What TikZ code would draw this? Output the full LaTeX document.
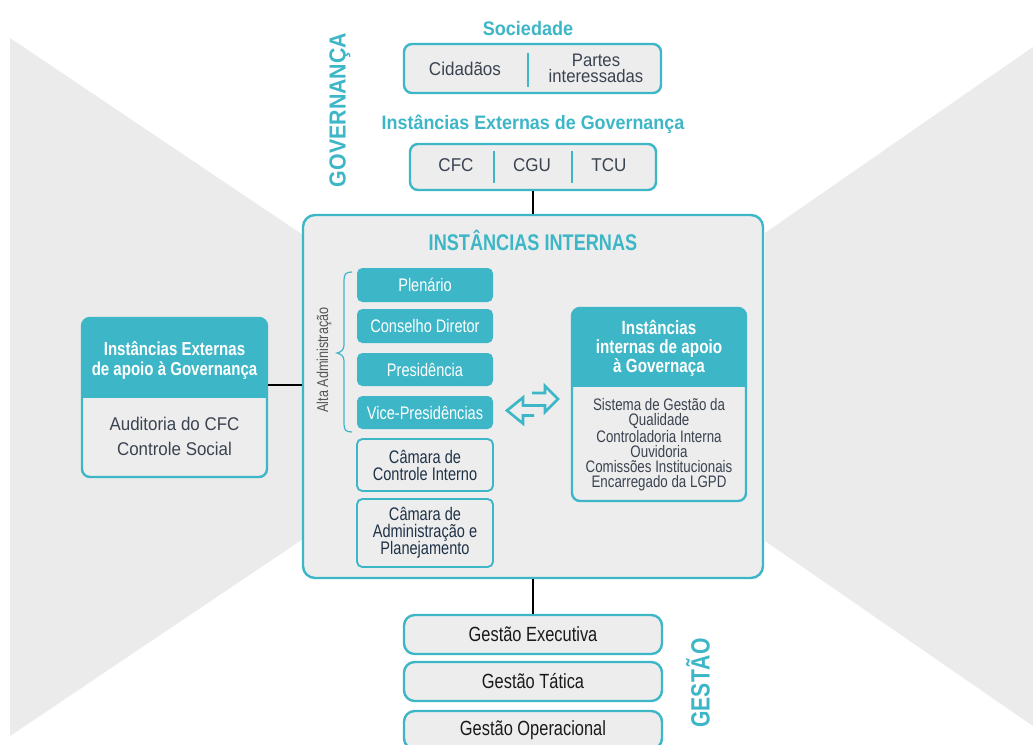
\documentclass[tikz,border=0pt]{standalone}
\usepackage{fontspec}
\setmainfont{Liberation Sans}
\newfontfamily\cond[FakeStretch=0.8]{Liberation Sans}
\newfontfamily\semi[FakeStretch=0.92]{Liberation Sans}
\definecolor{brand}{HTML}{3DB6C7}
\definecolor{boxgray}{HTML}{EDEDED}
\definecolor{bggray}{HTML}{EBEBEB}
\definecolor{textdark}{HTML}{3B4350}
\definecolor{navy}{HTML}{1F3246}
\definecolor{nearblack}{HTML}{1A1A1A}
\definecolor{altagray}{HTML}{555555}
\begin{document}
\begin{tikzpicture}[x=0.75pt,y=-0.75pt,
  sz/.style 2 args={minimum width=#1*0.75pt, minimum height=#2*0.75pt},
  obox/.style={draw=brand, line width=1.8pt, fill=boxgray, rounded corners=6pt, inner sep=0pt},
  fbox/.style={fill=brand, rounded corners=4pt, inner sep=0pt, text=white, font=\cond\fontsize{13.65}{12}\selectfont},
  cbox/.style={draw=brand, line width=1.4pt, fill=boxgray, rounded corners=4pt, inner sep=0pt, text=navy, align=center, font=\cond\fontsize{13.65}{12.8}\selectfont},
  gbox/.style={draw=brand, line width=1.8pt, fill=boxgray, rounded corners=8pt, inner sep=0pt, text=nearblack, font=\cond\fontsize{15.4}{17}\selectfont},
  conn/.style={draw=black, line width=1.6pt},
  divider/.style={draw=brand, line width=1.6pt},
  ttl/.style={text=brand, inner sep=0pt, font=\semi\bfseries\fontsize{14.7}{17}\selectfont},
  txt/.style={text=textdark, align=center, inner sep=0pt},
  bracestyle/.style={draw=brand, line width=0.9pt},
]
% background
\fill[white] (0,0) rectangle (1033,744);
\fill[bggray] (10,38) -- (303,235) -- (303,539) -- (10,736) -- cycle;
\fill[bggray] (1033,47) -- (765,233) -- (765,541) -- (1033,726) -- cycle;
\useasboundingbox (0,0) rectangle (1033,744);

% Sociedade
\node[ttl] (soct) at (528,28) {Sociedade};
\node[obox, sz={257}{49}] (soc) at (532.5,68.5) {};
\draw[divider] (528,53) -- (528,87);
\node[txt, font=\semi\fontsize{13.9}{16}\selectfont] (cid) at (465,69) {Cidadãos};
\node[txt, font=\semi\fontsize{13.6}{12.2}\selectfont] (par) at (596,68) {Partes\\interessadas};

% Instancias externas de governanca
\node[ttl, font=\semi\bfseries\fontsize{14.6}{17}\selectfont] (extt) at (533,124) {Instâncias Externas de Governança};
\node[obox, sz={246}{46}] (cfcb) at (533,167) {};
\draw[divider] (494,151) -- (494,183);
\draw[divider] (572,151) -- (572,183);
\node[txt, font=\semi\fontsize{13.9}{16}\selectfont] (cfc) at (456,165) {CFC};
\node[txt, font=\semi\fontsize{13.9}{16}\selectfont] (cgu) at (532,165) {CGU};
\node[txt, font=\semi\fontsize{13.9}{16}\selectfont] (tcu) at (609,165) {TCU};

\node[rotate=90, text=brand, inner sep=0pt, font=\semi\bfseries\fontsize{17.4}{19}\selectfont] (gov) at (340,110) {GOVERNANÇA};

% Instancias internas
\node[obox, rounded corners=9pt, sz={460}{363}] (inner) at (533,396.5) {};
\node[text=brand, inner sep=0pt, font=\cond\bfseries\fontsize{17}{19}\selectfont] (innt) at (533,240) {INSTÂNCIAS INTERNAS};

\node[fbox, sz={136}{34}] (plen) at (425,285) {Plenário};
\node[fbox, sz={136}{34}] (cons) at (425,326) {Conselho Diretor};
\node[fbox, sz={136}{33}] (pres) at (425,369.5) {Presidência};
\node[fbox, sz={136}{33}] (vice) at (425,412.5) {Vice-Presidências};
\node[cbox, sz={136}{52}] (cci) at (425,465) {Câmara de\\Controle Interno};
\node[cbox, sz={136}{68}] (cap) at (425,533) {Câmara de\\Administração e\\Planejamento};

\node[rotate=90, text=altagray, inner sep=0pt, font=\cond\fontsize{11.8}{13}\selectfont] (alta) at (324,360) {Alta Administração};
\draw[bracestyle] (352,272) .. controls (346,272) and (344,274) .. (344,280) -- (344,345)
  .. controls (344,350) and (341,352) .. (337,353) .. controls (341,354) and (344,356) .. (344,361)
  -- (344,424) .. controls (344,430) and (346,432) .. (352,432);

% double arrow
\draw[brand, line width=2pt, line join=miter] (532,393) -- (545,393) -- (545,386) -- (558,399) -- (545,412) -- (545,405.5) -- (523,405.5) -- (523,397.5) -- (507,410.5) -- (523,423.5) -- (523,415.5) -- (534,415.5);

% right box
\node[obox, sz={174}{193}] (intR) at (659,404.5) {};
\begin{scope}
  \clip (560,300) rectangle (760,386);
  \fill[brand, rounded corners=6pt] (572,308) rectangle (746,501);
\end{scope}
\node[txt, text=white, font=\cond\bfseries\fontsize{14.3}{14.25}\selectfont] (intRh) at (659,348) {Instâncias\\internas de apoio\\à Governaça};
\node[txt, font=\cond\fontsize{12.5}{11.25}\selectfont] (intRb) at (659,444.5) {Sistema de Gestão da\\Qualidade\\Controladoria Interna\\Ouvidoria\\Comissões Institucionais\\Encarregado da LGPD};

% left box
\node[obox, sz={185}{159}] (extL) at (174.5,397.5) {};
\begin{scope}
  \clip (70,300) rectangle (280,397);
  \fill[brand, rounded corners=6pt] (82,318) rectangle (267,477);
\end{scope}
\node[txt, text=white, font=\cond\bfseries\fontsize{14.1}{15}\selectfont] (extLh) at (174.5,360) {Instâncias Externas\\de apoio à Governança};
\node[txt, font=\semi\fontsize{13.8}{18.75}\selectfont] (extLb) at (174.5,436) {Auditoria do CFC\\Controle Social};

% gestao
\node[gbox, sz={258}{39}] (gex) at (533,634.5) {Gestão Executiva};
\node[gbox, sz={258}{39}] (gta) at (533,681.5) {Gestão Tática};
\node[gbox, sz={258}{38}] (gop) at (533,730) {Gestão Operacional};
\node[rotate=90, text=brand, inner sep=0pt, font=\cond\bfseries\fontsize{19.8}{21}\selectfont] (gest) at (698,683) {GESTÃO};

% connectors
\draw[conn] (cfcb.south) -- (inner.north);
\coordinate (jl) at (285,385);
\draw[conn] (extL.east |- jl) -- (inner.west |- jl);
\draw[conn] (inner.south) -- (gex.north);
\end{tikzpicture}
\end{document}
